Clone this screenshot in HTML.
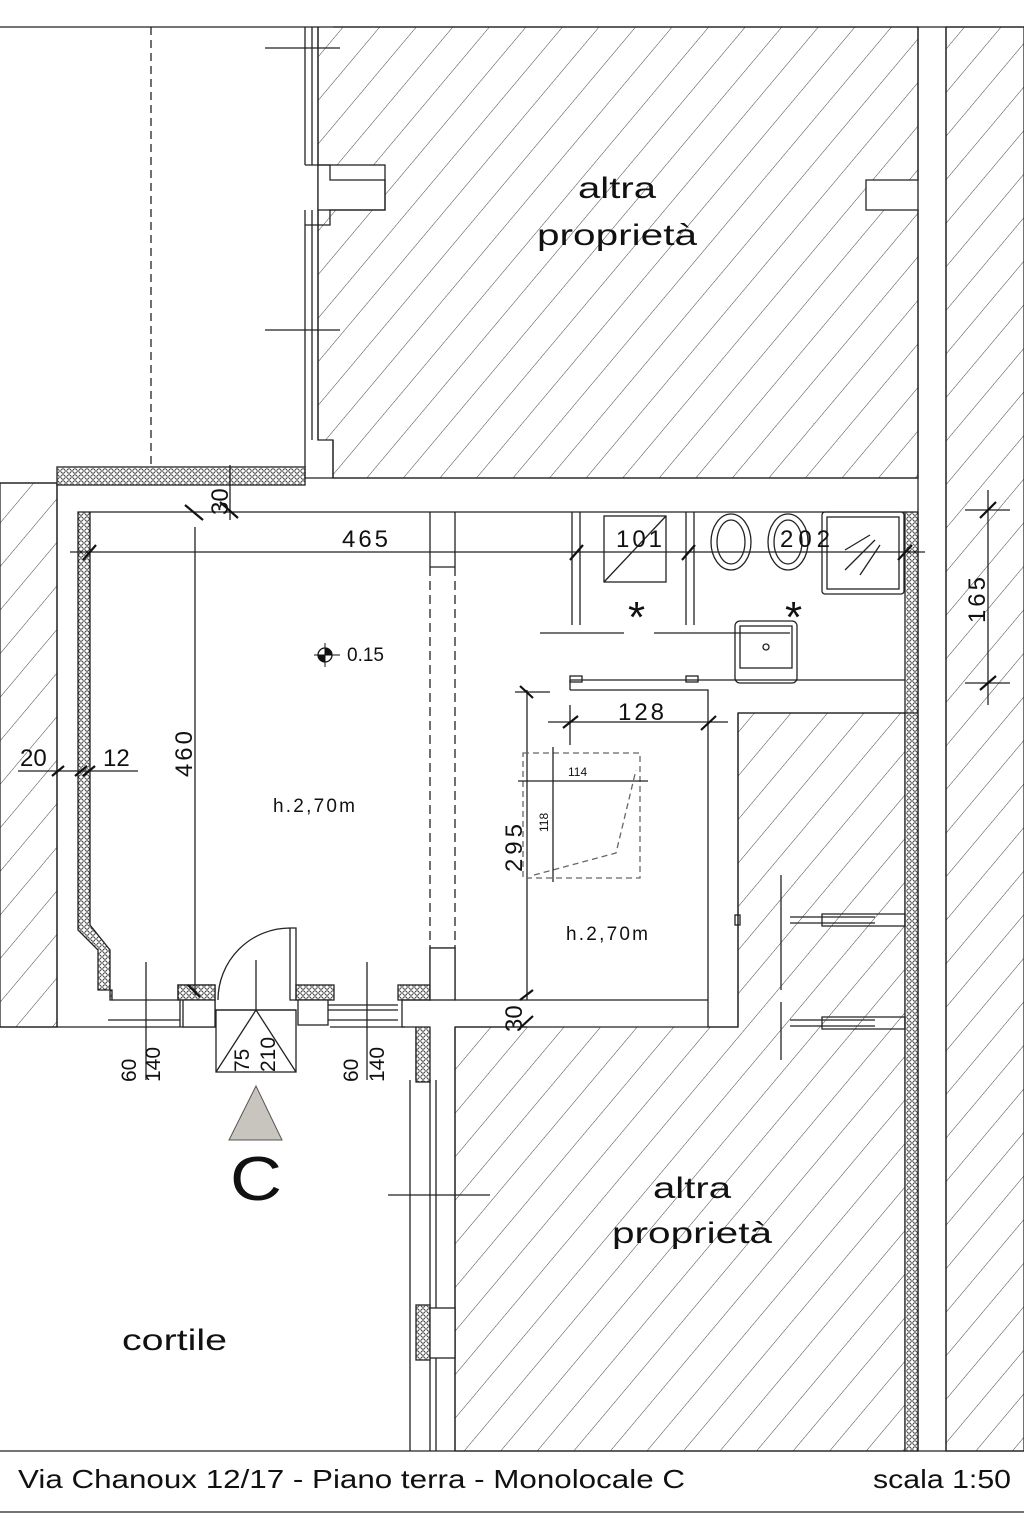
<!DOCTYPE html>
<html><head><meta charset="utf-8"><style>
html,body{margin:0;padding:0;background:#fff;}
svg{display:block;}
text{font-family:"Liberation Sans",sans-serif;fill:#111;}
</style></head><body>
<svg width="1024" height="1536" viewBox="0 0 1024 1536" xmlns="http://www.w3.org/2000/svg">
<defs>
<pattern id="h" width="28" height="28" patternUnits="userSpaceOnUse" patternTransform="rotate(40)">
<line x1="0" y1="0" x2="0" y2="28" stroke="#444" stroke-width="1"/>
</pattern>
<pattern id="c" width="6" height="6" patternUnits="userSpaceOnUse">
<rect width="6" height="6" fill="#fff"/><circle cx="3" cy="3" r="2.2" fill="none" stroke="#222" stroke-width="0.8"/>
</pattern>
</defs>
<rect width="1024" height="1536" fill="#fff"/>
<g stroke="#222" stroke-width="1.3" fill="none">
<line x1="0" y1="27" x2="1024" y2="27"/>
<line x1="0" y1="1451" x2="1024" y2="1451"/>
<line x1="0" y1="1512" x2="1024" y2="1512"/>

<path d="M333 27 H918 V180 H866 V210 H918 V478 H333 V440 H318 V27" fill="url(#h)"/>
<rect x="318" y="165" width="67" height="45" fill="#fff"/>
<path d="M305 27 V165 M312 27 V165 M318 27 V165 M305 210 V440 M312 210 V440 M318 210 V440 M305 165 H330 V180 H385 V210 H330 V225 H305"/>
<path d="M305 440 V470 M333 440 V478"/>
<line x1="265" y1="48" x2="340" y2="48"/>
<line x1="265" y1="330" x2="340" y2="330"/>
<line x1="151" y1="27" x2="151" y2="467" stroke-dasharray="8 5"/>
<rect x="946" y="27" width="78" height="1424" fill="url(#h)"/>
<line x1="918" y1="27" x2="918" y2="1451"/>
<line x1="946" y1="27" x2="946" y2="1451"/>
<rect x="0" y="483" width="57" height="544" fill="url(#h)"/>
<line x1="57" y1="483" x2="57" y2="1027"/>
<line x1="0" y1="483" x2="57" y2="483"/>
<line x1="0" y1="1027" x2="108" y2="1027"/>

<rect x="57" y="467" width="248" height="18" fill="url(#c)"/>
<path d="M305 470 V478 H333 V478 H918"/>
<path d="M78 512 H90 V925 L110 950 V1000 H112 V990 H98 V950 L78 930 Z" fill="url(#c)"/>
<line x1="90" y1="512" x2="905" y2="512"/>
<path d="M112 1000 H178 V985 H215 M108 1020 H180 M108 1027 H215 V1005 M180 1000 V1027 M178 985 H215 V1005" />
<rect x="178" y="985" width="37" height="15" fill="url(#c)"/>
<rect x="183" y="1000" width="32" height="27" fill="#fff"/>
<rect x="296" y="985" width="38" height="15" fill="url(#c)"/>
<rect x="298" y="1000" width="30" height="25" fill="#fff"/>
<path d="M215 1010 H296 M328 1005 H398 M328 1010 H398 M328 1020 H398 M330 1027 H405"/>
<rect x="398" y="985" width="32" height="15" fill="url(#c)"/>
<path d="M430 948 H455 V1000 H527 M402 1000 V1027 H416 V1080 M430 948 V1000 H402 M455 1027 H527"/>
<rect x="430" y="948" width="25" height="52" fill="#fff"/>
<line x1="430" y1="512" x2="430" y2="567"/>
<line x1="455" y1="512" x2="455" y2="567"/>
<line x1="430" y1="567" x2="455" y2="567"/>
<line x1="430" y1="567" x2="430" y2="948" stroke-dasharray="9 5"/>
<line x1="455" y1="567" x2="455" y2="948" stroke-dasharray="9 5"/>
<rect x="216" y="1010" width="80" height="62"/>
<path d="M216 1072 L256 1010 L296 1072 M256 1010 V960"/>
<path d="M218 1000 A72 72 0 0 1 290 928 V1000 H296 V928 H290"/>
<line x1="146" y1="962" x2="146" y2="1080"/>
<line x1="367" y1="962" x2="367" y2="1080"/>
<line x1="195" y1="527" x2="195" y2="995"/>

<path d="M455 1027 H738 V713 H905 V1451 H455 Z" fill="url(#h)"/>
<rect x="905" y="512" width="13" height="939" fill="url(#c)"/>
<line x1="905" y1="713" x2="918" y2="713"/>
<rect x="416" y="1027" width="14" height="55" fill="url(#c)"/>
<path d="M410 1080 V1451 M430 1080 V1451 M436 1080 V1451 M455 1027 V1451"/>
<rect x="416" y="1305" width="14" height="55" fill="url(#c)"/>
<rect x="430" y="1308" width="25" height="50" fill="#fff"/>
<line x1="388" y1="1195" x2="490" y2="1195"/>
<path d="M527 690 V1000 M570 690 H708 V1000 H527 M570 680 V690 M570 680 H905 M738 713 H905 M738 713 V1027 M708 1000 V1027 H738"/>
<rect x="570" y="676" width="12" height="6"/><rect x="686" y="676" width="12" height="6"/>
<rect x="523" y="753" width="117" height="125" stroke-dasharray="6 4" stroke="#666"/>
<path d="M534 875 L616 853 L636 770" stroke-dasharray="6 4" stroke="#666"/>
<line x1="518" y1="781" x2="648" y2="781"/>
<line x1="553" y1="747" x2="553" y2="882"/>
<line x1="781" y1="875" x2="781" y2="990"/>
<line x1="781" y1="1002" x2="781" y2="1060"/>
<path d="M790 917 H875 M790 923 H875 M822 914 H905 V926 H822 Z"/>
<path d="M790 1020 H875 M790 1026 H875 M822 1017 H905 V1029 H822 Z"/>
<rect x="735" y="915" width="5" height="10"/>
<path d="M572 512 V625 M580 512 V625 M686 512 V625 M694 512 V625"/>
<rect x="604" y="516" width="62" height="66"/>
<line x1="604" y1="582" x2="666" y2="516"/>
<ellipse cx="731" cy="542" rx="20" ry="28"/><ellipse cx="731" cy="542" rx="14" ry="22"/>
<ellipse cx="788" cy="542" rx="20" ry="28"/><ellipse cx="788" cy="542" rx="14" ry="22"/>
<rect x="822" y="512" width="82" height="82" rx="3"/><rect x="827" y="517" width="72" height="72"/>
<path d="M540 633 H624 M654 633 H790"/>
<rect x="735" y="621" width="62" height="62" rx="5"/><rect x="740" y="626" width="52" height="42"/>
<circle cx="766" cy="647" r="3"/>
<path d="M845 570 L875 540 M860 575 L880 545 M845 550 L870 535"/>
<line x1="70" y1="552" x2="925" y2="552"/>
<line x1="18" y1="771" x2="138" y2="771"/>
<line x1="988" y1="490" x2="988" y2="705"/>
<line x1="965" y1="510" x2="1010" y2="510"/>
<line x1="965" y1="683" x2="1010" y2="683"/>
<line x1="515" y1="692" x2="550" y2="692"/>
<line x1="548" y1="722" x2="728" y2="722"/>
<line x1="570" y1="705" x2="570" y2="745"/>
<line x1="230" y1="465" x2="230" y2="520"/>
</g>
<g stroke="#111" stroke-width="2.2">
<path d="M185 505 L203 520 M220 502 L238 518 M83 560 L96 545 M52 776 L64 766 M75 776 L87 766 M83 776 L95 766 M570 560 L583 545 M682 560 L695 545 M898 560 L912 545 M980 518 L996 502 M980 690 L996 676 M520 686 L533 698 M563 728 L578 716 M701 730 L716 716 M520 1000 L533 990 M520 1028 L533 1016 M188 985 L200 997"/>
</g>
<circle cx="325" cy="655" r="7" fill="#fff" stroke="#111" stroke-width="1.3"/>
<path d="M325 648 A7 7 0 0 1 332 655 L325 655Z M325 662 A7 7 0 0 1 318 655 L325 655Z" fill="#111"/>
<line x1="314" y1="655" x2="340" y2="655" stroke="#111"/><line x1="325" y1="643" x2="325" y2="667" stroke="#111"/>
<polygon points="256,1086 229,1140 282,1140" fill="#c8c5bf" stroke="#555"/>
<g font-size="30">
<text x="578" y="198" textLength="78" lengthAdjust="spacingAndGlyphs">altra</text>
<text x="537" y="245" textLength="160" lengthAdjust="spacingAndGlyphs">proprietà</text>
<text x="653" y="1198" textLength="78" lengthAdjust="spacingAndGlyphs">altra</text>
<text x="612" y="1243" textLength="160" lengthAdjust="spacingAndGlyphs">proprietà</text>
<text x="122" y="1350" textLength="105" lengthAdjust="spacingAndGlyphs">cortile</text>
</g>
<text x="230" y="1200" font-size="62" textLength="52" lengthAdjust="spacingAndGlyphs">C</text>
<g font-size="24">
<text x="342" y="547" textLength="46">465</text>
<text x="20" y="766">20</text>
<text x="103" y="766">12</text>
<text x="618" y="720" textLength="46">128</text>
<text x="616" y="547" textLength="46">101</text>
<text x="780" y="547" textLength="50">202</text>
<text transform="translate(192,777) rotate(-90)" textLength="46">460</text>
<text transform="translate(522,872) rotate(-90)" textLength="48">295</text>
<text transform="translate(985,623) rotate(-90)" textLength="46">165</text>
<text transform="translate(228,515) rotate(-90)">30</text>
<text transform="translate(522,1032) rotate(-90)">30</text>
</g>
<text x="273" y="812" font-size="19" textLength="82">h.2,70m</text>
<text x="566" y="940" font-size="19" textLength="82">h.2,70m</text>
<text x="347" y="661" font-size="19">0.15</text>
<text x="568" y="776" font-size="12">114</text>
<text transform="translate(548,832) rotate(-90)" font-size="12">118</text>
<text x="628" y="632" font-size="44">*</text><text x="785" y="632" font-size="44">*</text>
<g font-size="21">
<text transform="translate(136,1082) rotate(-90)">60</text>
<text transform="translate(160,1082) rotate(-90)">140</text>
<text transform="translate(249,1072) rotate(-90)">75</text>
<text transform="translate(275,1072) rotate(-90)">210</text>
<text transform="translate(358,1082) rotate(-90)">60</text>
<text transform="translate(384,1082) rotate(-90)">140</text>
</g>
<text x="18" y="1488" font-size="26" textLength="667" lengthAdjust="spacingAndGlyphs">Via Chanoux 12/17 - Piano terra - Monolocale C</text>
<text x="873" y="1488" font-size="26" textLength="138" lengthAdjust="spacingAndGlyphs">scala 1:50</text>
</svg>
</body></html>
